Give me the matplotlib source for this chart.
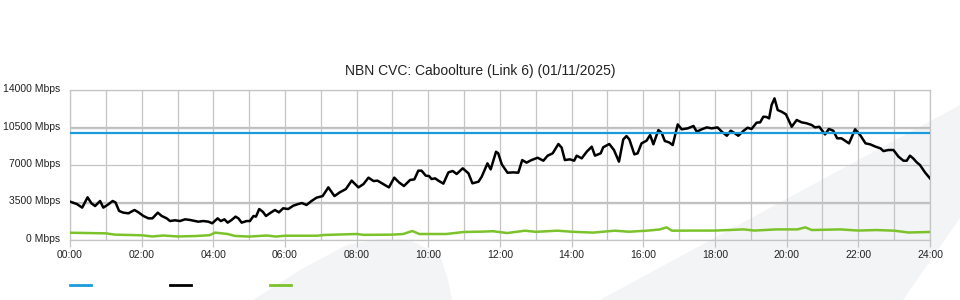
import matplotlib
matplotlib.use("Agg")
import matplotlib.pyplot as plt
from matplotlib.patches import Polygon
from matplotlib.lines import Line2D
from matplotlib.transforms import ScaledTranslation

plt.rcParams["font.family"] = ["Liberation Sans", "DejaVu Sans"]

# Dados (horas, Mbps)
titulo = "NBN CVC: Caboolture (Link 6) (01/11/2025)"
capacidade = 10000

trafego_h = [0.00, 0.19, 0.34, 0.49, 0.60, 0.70, 0.84, 0.93, 1.07, 1.19, 1.27, 1.37,
             1.49, 1.63, 1.80, 1.91, 2.05, 2.19, 2.30, 2.45, 2.56, 2.70, 2.79, 2.93,
             3.07, 3.21, 3.35, 3.49, 3.58, 3.72, 3.86, 3.97, 4.12, 4.21, 4.31, 4.40,
             4.51, 4.62, 4.70, 4.79, 4.93, 5.02, 5.12, 5.19, 5.28, 5.38, 5.47, 5.60,
             5.72, 5.83, 5.95, 6.09, 6.23, 6.37, 6.47, 6.60, 6.74, 6.88, 7.05, 7.21,
             7.38, 7.53, 7.70, 7.86, 8.05, 8.19, 8.33, 8.47, 8.58, 8.74, 8.90, 9.05,
             9.18, 9.32, 9.49, 9.61, 9.72, 9.81, 9.93, 10.02, 10.09, 10.19, 10.28, 10.42,
             10.56, 10.68, 10.79, 10.96, 11.12, 11.23, 11.40, 11.49, 11.65, 11.74, 11.89, 11.95,
             12.05, 12.21, 12.37, 12.51, 12.62, 12.74, 12.88, 13.05, 13.21, 13.33, 13.47, 13.63,
             13.72, 13.81, 13.95, 14.07, 14.14, 14.28, 14.42, 14.56, 14.65, 14.81, 14.88, 15.05,
             15.18, 15.32, 15.44, 15.53, 15.61, 15.75, 15.84, 15.95, 16.09, 16.19, 16.28, 16.42,
             16.51, 16.60, 16.72, 16.82, 16.96, 17.07, 17.24, 17.40, 17.49, 17.63, 17.77, 17.91,
             18.07, 18.19, 18.33, 18.44, 18.53, 18.65, 18.79, 18.91, 19.02, 19.16, 19.26, 19.35,
             19.44, 19.51, 19.58, 19.66, 19.75, 19.86, 19.98, 20.14, 20.28, 20.42, 20.56, 20.70,
             20.79, 20.91, 21.07, 21.18, 21.30, 21.41, 21.53, 21.63, 21.74, 21.91, 22.05, 22.20,
             22.33, 22.48, 22.62, 22.70, 22.84, 22.98, 23.12, 23.26, 23.35, 23.44, 23.53, 23.63,
             23.72, 23.86, 24.00]
trafego = [3580, 3360, 3020, 3980, 3420, 3170, 3640, 3020, 3330, 3640, 3510, 2710,
           2550, 2490, 2800, 2580, 2240, 2020, 2020, 2550, 2240, 2020, 1770, 1840,
           1770, 1930, 1870, 1770, 1710, 1770, 1710, 1560, 2020, 1770, 1930, 1620,
           1870, 2180, 2020, 1620, 1770, 1770, 2240, 2180, 2890, 2640, 2240, 2550,
           2800, 2580, 2960, 2890, 3200, 3360, 3450, 3270, 3640, 3950, 4100, 4910,
           4100, 4450, 4760, 5540, 4910, 5220, 5820, 5500, 5540, 5220, 4910, 5820,
           5380, 5040, 5600, 5660, 6470, 6470, 6000, 5970, 5690, 5750, 5540, 5260,
           6310, 6440, 6160, 6690, 6220, 5290, 5440, 5910, 7150, 6590, 8240, 8090,
           7060, 6280, 6310, 6280, 7460, 7220, 7460, 7680, 7400, 7870, 8090, 8960,
           8620, 7460, 7530, 7400, 7870, 7620, 8240, 8710, 7870, 8090, 8650, 8960,
           8400, 7310, 9390, 9700, 9390, 7990, 8090, 9020, 9270, 9800, 8930, 10260,
           10010, 9240, 9110, 8860, 10790, 10330, 10420, 10640, 10110, 10330, 10510, 10420,
           10510, 10110, 9730, 10200, 10010, 9730, 10170, 10480, 10360, 10950, 10980, 11510,
           11480, 11350, 12600, 13220, 12130, 11970, 11730, 10570, 11200, 10980, 10890, 10730,
           10510, 10570, 9860, 10360, 10200, 9490, 9490, 9270, 9020, 10330, 9800, 9020,
           8930, 8710, 8550, 8300, 8400, 8400, 7780, 7400, 7400, 7870, 7620, 7250,
           7000, 6310, 5750]

upload_h = [0.0, 0.5, 1.0, 1.25, 2.0, 2.3, 2.6, 3.0, 3.5, 3.9, 4.05, 4.4, 4.6, 5.0,
            5.5, 5.75, 6.0, 6.9, 7.1, 8.0, 8.2, 9.0, 9.3, 9.55, 9.75, 10.5, 11.0, 11.5,
            11.8, 12.2, 12.7, 13.0, 13.6, 14.0, 14.6, 15.2, 15.6, 16.1, 16.45, 16.65, 16.8,
            17.5, 18.0, 18.8, 19.1, 19.7, 20.3, 20.52, 20.7, 21.5, 22.0, 22.5, 23.0, 23.4,
            24.0]
upload = [680, 650, 620, 500, 440, 330, 420, 330, 370, 450, 690, 560, 380, 320,
          420, 320, 400, 400, 470, 560, 480, 500, 560, 840, 560, 560, 750, 780,
          820, 650, 870, 760, 870, 770, 690, 870, 770, 870, 980, 1180, 870,
          880, 880, 990, 880, 990, 990, 1180, 930, 990, 880, 930, 870, 700,
          750]

horas_ticks = list(range(0, 25, 2))
horas_labels = [f"{h:02d}:00" for h in horas_ticks]
y_ticks = [0, 3500, 7000, 10500, 14000]
y_labels = [f"{v} Mbps" for v in y_ticks]

azul = "#1b9bdb"
verde = "#7cc32b"

fig = plt.figure(figsize=(9.6, 3.0), dpi=100)

# Marca d'água ao fundo (px da figura)
W, H = 960, 300
formas = [
    [(253, 300), (300, 270), (347, 245), (380, 239), (410, 240), (440, 255), (448, 280), (452, 300)],
    [(600, 300), (960, 105), (960, 218), (903, 300)],
]
for f in formas:
    pts = [(x / W, 1 - y / H) for x, y in f]
    fig.patches.append(Polygon(pts, closed=True, transform=fig.transFigure,
                               facecolor="#f3f4f6", edgecolor="none", zorder=-10))

ax = fig.add_axes([70 / W, 1 - 240 / H, 860 / W, 150 / H])
ax.set_facecolor("none")

ax.plot(trafego_h, trafego, color="black", lw=1.8, zorder=4)
ax.plot(upload_h, upload, color=verde, lw=1.8, zorder=3)
ax.axhline(capacidade, color=azul, lw=1.6, zorder=5)

ax.set_xlim(0, 24)
ax.set_ylim(0, 14000)
ax.set_xticks(horas_ticks)
ax.set_xticklabels(horas_labels)
ax.set_xticks(range(1, 24, 2), minor=True)
ax.set_yticks(y_ticks)
ax.set_yticklabels(y_labels)

ax.grid(True, which="both", axis="x", color="#c4c4c4", lw=0.9)
ax.grid(True, axis="y", color="#c4c4c4", lw=0.9)
# linhas de 3500 e 10500 aparecem mais grossas no original
for v in (3500, 10500):
    ax.axhline(v, color="#bcbcbc", lw=1.6, zorder=1)
for s in ax.spines.values():
    s.set_color("#c4c4c4")
    s.set_linewidth(0.9)

ax.tick_params(axis="x", which="major", length=5, width=0.9, color="#c4c4c4",
               labelsize=7.5, labelcolor="#222222", pad=2.5)
ax.tick_params(axis="x", which="minor", length=0)
ax.tick_params(axis="y", length=0, labelsize=7.5, labelcolor="#222222", pad=7)

# rótulos do eixo Y um pouco acima da linha
desloc = ScaledTranslation(0, 2 / 100, fig.dpi_scale_trans)
for lbl in ax.get_yticklabels():
    lbl.set_transform(lbl.get_transform() + desloc)

fig.text(0.5, 1 - 71 / H, titulo, ha="center", va="center", fontsize=10, color="#222222")

# Legenda só com as linhas
handles = [Line2D([], [], color=azul, lw=2),
           Line2D([], [], color="black", lw=2),
           Line2D([], [], color=verde, lw=2)]
fig.legend(handles, ["", "", ""], ncol=3, loc="center left",
           bbox_to_anchor=(70 / W, 1 - 285 / H), frameon=False, fontsize=7.2,
           handlelength=2.1, handletextpad=0, columnspacing=7.9,
           borderpad=0, borderaxespad=0)

fig.savefig("out.png", dpi=100)
